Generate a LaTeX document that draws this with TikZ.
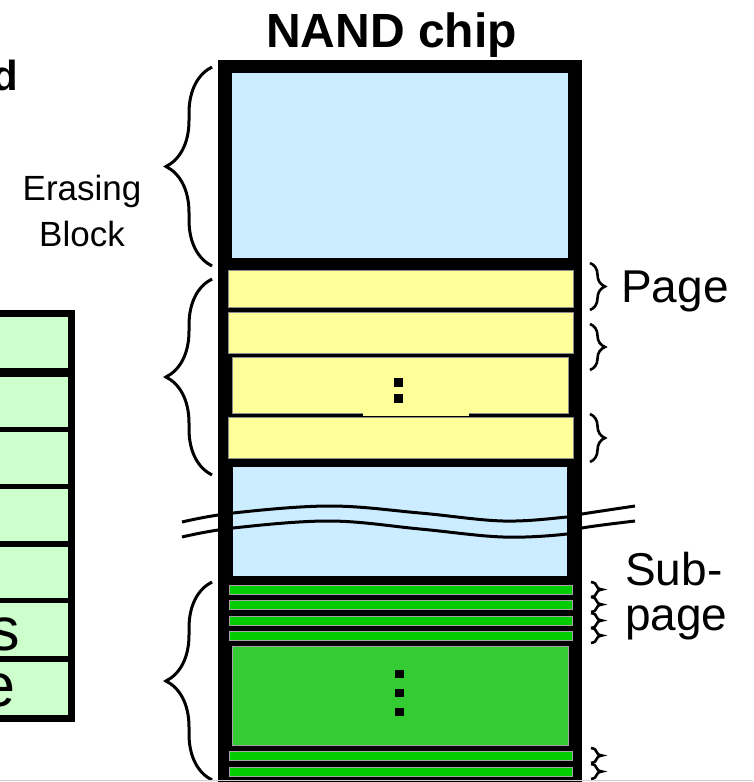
\documentclass[tikz,border=0pt]{standalone}
\usepackage{fontspec}
\setmainfont{Liberation Sans}
\usetikzlibrary{decorations.pathreplacing}

\definecolor{blkblue}{HTML}{CCECFF}
\definecolor{pgyellow}{HTML}{FFFF99}
\definecolor{subgreen}{HTML}{00CC00}
\definecolor{midgreen}{HTML}{33CC33}
\definecolor{tabgreen}{HTML}{CCFFCC}

\tikzset{
  lbrace/.style={decorate, decoration={brace, amplitude=46pt}, line width=3pt},
  pbrace/.style={decorate, decoration={brace, amplitude=15pt}, line width=2.6pt},
  sbrace/.style={decorate, decoration={brace, amplitude=11pt}, line width=2.6pt},
  pagerow/.style={fill=pgyellow, draw=black!45, line width=0.6pt},
  subrow/.style={fill=subgreen, draw=black!35, line width=0.5pt},
  cellbox/.style={fill=tabgreen},
  dotsq/.style={fill=black, minimum size=8.5pt, inner sep=0},
  lbl/.style={font=\fontsize{46}{45}\selectfont, inner sep=0},
  wave/.style={line width=3pt},
}

\begin{document}
\begin{tikzpicture}[x=1pt, y=-1pt]
    \clip (0,0) rectangle (753,782);

    % --- left table, cut off at the page edge ---
    \fill[black] (-10,310) rectangle (75,722);
    \foreach \ya/\yb in {317/368, 377/427, 432/484, 489/541, 547/598, 603/656, 662/715}
      \fill[cellbox] (-10,\ya) rectangle (68,\yb);
    \node[font=\fontsize{42}{42}\selectfont\bfseries, inner sep=0, anchor=base east] (ttl) at (18,90) {d};
    \node[font=\fontsize{61}{61}\selectfont, inner sep=0, anchor=base east] (cs) at (20,650) {s};
    \node[font=\fontsize{61}{61}\selectfont, inner sep=0, anchor=base east] (ce) at (16,706) {e};

    % --- chip body ---
    \node[font=\fontsize{48}{48}\selectfont\bfseries, inner sep=0, anchor=base] (chip) at (391.5,47) {NAND chip};
    \fill[black] (218,60) rectangle (582,800);
    \fill[blkblue] (232,73) rectangle (568,258);

    % pages
    \draw[pagerow] (228,270) rectangle (573,307);
    \draw[pagerow] (228,312) rectangle (573,353);
    \draw[pagerow] (232,357) rectangle (568,413);
    \fill[pgyellow] (363,410) rectangle (469,416);
    \draw[pagerow] (228,417) rectangle (573,458);
    \node[dotsq] (pd1) at (398.5,382.5) {};
    \node[dotsq] (pd2) at (398.5,398.5) {};

    % next block, broken
    \fill[blkblue] (233,467) rectangle (567,576);
    \draw[wave] plot[smooth, tension=0.6] coordinates
      {(182,522) (233,513) (330,506) (420,513) (503,521) (567,517) (582,514) (635,506)};
    \draw[wave] plot[smooth, tension=0.6] coordinates
      {(182,537) (233,528) (330,521) (420,529) (503,537) (567,534) (582,528) (635,521)};

    % sub-pages
    \foreach \y in {585,600,616,631,751,767} {
      \draw[subrow] (229,\y) rectangle (572,\y+9);
      \draw[sbrace] (591,\y-3) -- (591,\y+12);
    }
    \fill[midgreen, draw=black!35, line width=0.5pt] (232,646) rectangle (568,745);
    \node[dotsq] (gd1) at (399.5,674) {};
    \node[dotsq] (gd2) at (399.5,693) {};
    \node[dotsq] (gd3) at (399.5,712) {};

    % --- braces left ---
    \draw[lbrace] (212,266) -- (212,67);
    \draw[lbrace] (212,475) -- (212,279);
    \draw[lbrace] (212,780) -- (212,582);
    \node[font=\fontsize{35}{46}\selectfont, align=center, inner sep=0, anchor=base] (erase) at (82,246) {Erasing\\Block};

    % --- braces right ---
    \draw[pbrace] (590,263) -- (590,310);
    \draw[pbrace] (590,324) -- (590,370);
    \draw[pbrace] (590,414) -- (590,462);
    \node[lbl, anchor=base west] (page) at (621,302) {Page};
    \node[lbl, align=left, anchor=base west] (subpage) at (625,630) {Sub-\\page};

    \draw[gray!35, line width=1.2pt] (0,780.5) -- (753,780.5);
\end{tikzpicture}
\end{document}
